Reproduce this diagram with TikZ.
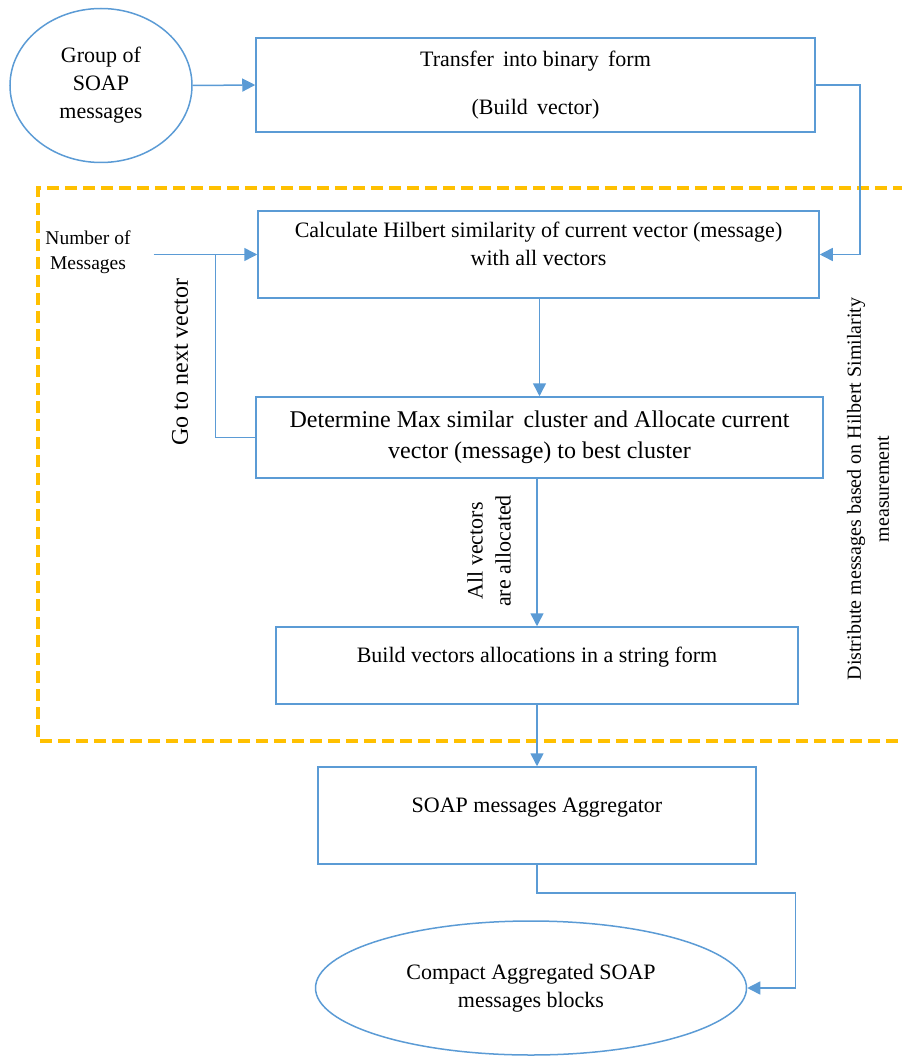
\documentclass[tikz,border=0pt]{standalone}
\usepackage{fontspec}
\setmainfont{Liberation Serif}
\usetikzlibrary{shapes.geometric,arrows.meta}

\definecolor{msblue}{HTML}{5B9BD5}
\definecolor{dashorange}{HTML}{FFC000}

\tikzset{
	box/.style={draw=msblue, line width=1.5pt, rectangle, align=center, inner sep=0pt, font=\fontsize{22}{28}\selectfont},
	oval/.style={draw=msblue, line width=1.5pt, ellipse, align=center, inner sep=0pt, font=\fontsize{22}{28}\selectfont},
	lift/.style={text depth=21pt},
	note/.style={align=center, inner sep=0pt, font=\fontsize{22}{28}\selectfont},
	flow/.style={draw=msblue, line width=1.5pt, -{Triangle[length=13pt,width=13pt]}},
	link/.style={draw=msblue, line width=1.5pt},
	zone/.style={draw=dashorange, line width=4pt, dash pattern=on 12pt off 6pt}
}

\begin{document}
\begin{tikzpicture}[x=1pt, y=-1pt]
		\useasboundingbox (0,0) rectangle (901,1056);

		% dashed region round the clustering steps
		\draw[zone] (905,188) -- (38,188) -- (38,741) -- (905,741);

		\draw (101,85.5) node [oval, minimum width=182, minimum height=154] (grp) {Group of\\SOAP\\messages};
		\draw (535.5,85) node [box, minimum width=559, minimum height=94] (bin) {Transfer\, into binary\, form\\[20pt](Build\, vector)};
		\draw (538.5,254.5) node [box, lift, minimum width=561, minimum height=87] (calc) {Calculate Hilbert similarity of current vector (message)\\with all vectors};
		\draw (539.5,437.5) node [box, minimum width=567, minimum height=81, font=\fontsize{24}{31}\selectfont] (det) {Determine Max similar\, cluster and Allocate current\\vector (message) to best cluster};
		\draw (537,665.5) node [box, lift, minimum width=522, minimum height=77] (alloc) {Build vectors allocations in a string form};
		\draw (537,815.5) node [box, lift, minimum width=438, minimum height=97] (agg) {SOAP messages Aggregator};
		\draw (531,988) node [oval, minimum width=431, minimum height=134] (out) {Compact Aggregated SOAP\\messages blocks};

		\draw (88,252) node [note, font=\fontsize{19.5}{25}\selectfont] (num) {Number of\\Messages};
		\draw (180,362) node [note, rotate=90, font=\fontsize{24}{28}\selectfont] (next) {Go to next vector};
		\draw (489,551) node [note, rotate=90] (done) {All vectors\\are allocated};
		\draw (868,489) node [note, rotate=90, font=\fontsize{20}{28}\selectfont] (dist) {Distribute messages based on Hilbert Similarity\\measurement};

		\draw[flow] (grp.east) -- (bin.west);
		\draw[flow] (bin.east) -- ++(44,0) |- (calc.east);
		\draw[flow] ([xshift=23pt]num.east |- calc.west) -- (calc.west);
		\draw[link] (det.west) -| ([xshift=-42pt]calc.west);
		\draw[flow] (calc.south -| det.north) -- (det.north);
		\draw[flow] (alloc.north |- det.south) -- (alloc.north);
		\draw[flow] (alloc.south) -- (agg.north);
		\draw[flow] (agg.south) -- ++(0,28) -| ([xshift=48pt]out.east) -- (out.east);
	\end{tikzpicture}
\end{document}
